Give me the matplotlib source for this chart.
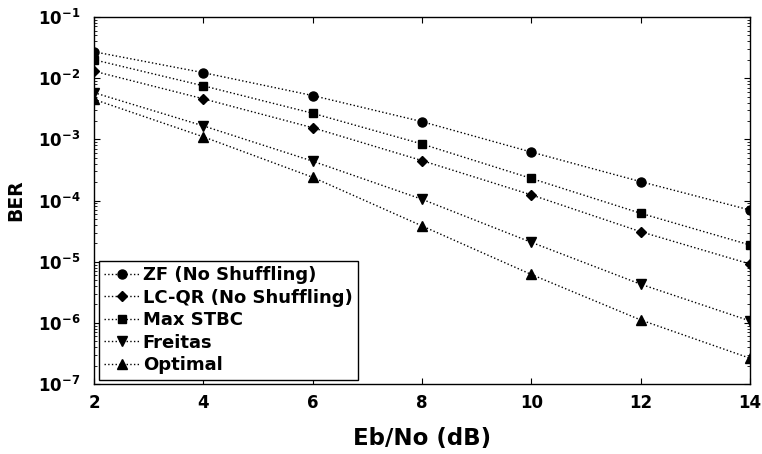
import numpy as np
import matplotlib
matplotlib.use('Agg')
import matplotlib.pyplot as plt
from matplotlib.ticker import FixedLocator, LogLocator, FuncFormatter, NullFormatter

plt.rcParams['font.family'] = 'DejaVu Sans'
plt.rcParams['font.weight'] = 'bold'
plt.rcParams['mathtext.fontset'] = 'custom'
plt.rcParams['mathtext.rm'] = 'DejaVu Sans:bold'
plt.rcParams['mathtext.it'] = 'DejaVu Sans:bold'
plt.rcParams['mathtext.bf'] = 'DejaVu Sans:bold'

ebno = [2, 4, 6, 8, 10, 12, 14]
ber_zf = [2.7e-2, 1.23e-2, 5.2e-3, 1.95e-3, 6.2e-4, 2.04e-4, 7.0e-5]
ber_lcqr = [1.3e-2, 4.6e-3, 1.55e-3, 4.5e-4, 1.24e-4, 3.1e-5, 9.2e-6]
ber_maxstbc = [2.0e-2, 7.5e-3, 2.67e-3, 8.4e-4, 2.3e-4, 6.2e-5, 1.88e-5]
ber_freitas = [5.8e-3, 1.66e-3, 4.4e-4, 1.05e-4, 2.08e-5, 4.3e-6, 1.08e-6]
ber_optimal = [4.5e-3, 1.1e-3, 2.4e-4, 3.85e-5, 6.2e-6, 1.12e-6, 2.65e-7]
ber_ticks = [1e-7, 1e-6, 1e-5, 1e-4, 1e-3, 1e-2, 1e-1]

series = [
    (ber_zf, 'o', 6.5, 'ZF (No Shuffling)'),
    (ber_lcqr, 'D', 5.5, 'LC-QR (No Shuffling)'),
    (ber_maxstbc, 's', 6, 'Max STBC'),
    (ber_freitas, 'v', 7, 'Freitas'),
    (ber_optimal, '^', 7, 'Optimal'),
]

fig = plt.figure(figsize=(7.62, 4.54), dpi=100)
ax = fig.add_axes([0.1234, 0.154, 0.8606, 0.8086])

for ber, mk, ms, name in series:
    ax.semilogy(ebno, ber, ':', color='black', linewidth=1.0,
                marker=mk, markersize=ms, markerfacecolor='black',
                markeredgecolor='black', label=name)

ax.set_xlim(2, 14)
ax.set_ylim(1e-7, 1e-1)
ax.set_xticks(ebno)
ax.yaxis.set_major_locator(FixedLocator(ber_ticks))
ax.yaxis.set_minor_locator(LogLocator(base=10, subs=np.arange(2, 10), numticks=20))
ax.yaxis.set_minor_formatter(NullFormatter())
ax.yaxis.set_major_formatter(FuncFormatter(lambda v, p: r'$10^{%d}$' % int(round(np.log10(v)))))

ax.tick_params(which='both', direction='in', top=True, right=True)
ax.tick_params(which='major', length=4, width=0.8, labelsize=12)
ax.tick_params(axis='x', which='major', pad=7)
ax.tick_params(axis='y', which='major', pad=10)
ax.tick_params(which='minor', length=2, width=0.6)
for s in ax.spines.values():
    s.set_linewidth(1.0)

ax.set_xlabel('Eb/No (dB)', fontsize=16.5, fontweight='bold', labelpad=11)
ax.set_ylabel('BER', fontsize=13.5, fontweight='bold')
ax.yaxis.set_label_coords(-0.105, 0.5)

leg = ax.legend(loc='lower left', fontsize=13, frameon=True, fancybox=False,
                edgecolor='black', framealpha=1, borderaxespad=0.25,
                handlelength=2.0, handletextpad=0.15, labelspacing=0.25,
                borderpad=0.3)
leg.get_frame().set_linewidth(1.0)

fig.savefig('out.png', dpi=100)
